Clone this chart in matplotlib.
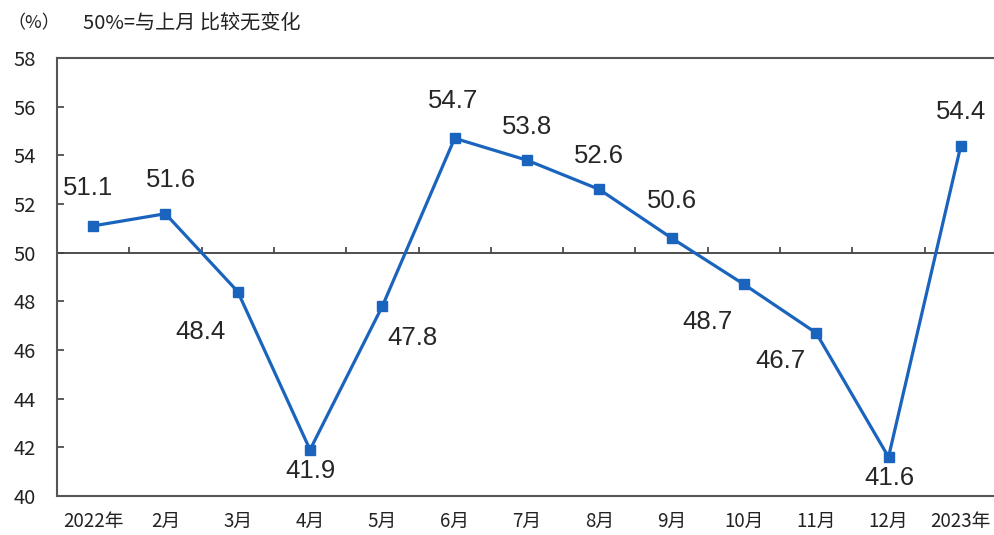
import matplotlib
matplotlib.use("Agg")
import matplotlib.pyplot as plt

plt.rcParams['font.family'] = ['Noto Sans CJK SC', 'DejaVu Sans']

months = ["2022年", "2月", "3月", "4月", "5月", "6月", "7月",
          "8月", "9月", "10月", "11月", "12月", "2023年"]
values = [51.1, 51.6, 48.4, 41.9, 47.8, 54.7, 53.8, 52.6, 50.6, 48.7, 46.7, 41.6, 54.4]
yticks = [40, 42, 44, 46, 48, 50, 52, 54, 56, 58]

# label offsets from each point, in points (x, y)
label_offsets = [(-4, 27), (4, 24), (-27, -29), (0, -15), (22, -23), (-1, 27), (0, 24),
                 (0, 24), (0, 27), (-26, -27), (-26, -20), (1, -15), (0, 24)]

fig = plt.figure(figsize=(9.94, 5.35), dpi=100)
ax = fig.add_axes([0.0573, 0.0729, 0.9457, 0.8187])

line_color = "#1a64be"
x = list(range(len(months)))
ax.plot(x, values, color=line_color, lw=2.3, marker="s", markersize=6.5,
        markerfacecolor=line_color, markeredgecolor=line_color, zorder=3)

for xi, v, (dx, dy) in zip(x, values, label_offsets):
    ax.annotate(f"{v:.1f}", (xi, v), xytext=(dx, dy), textcoords="offset points",
                ha="center", va="center", fontsize=18.5, color="#262626",
                family=["Liberation Sans", "DejaVu Sans"])

# reference line at 50 with small tick marks between months
ax.axhline(50, color="#404040", lw=1.3, zorder=2)
ax.vlines([i + 0.5 for i in range(len(months) - 1)], 50, 50.22,
          color="#404040", lw=1.2, zorder=2)

ax.set_xlim(-0.5, len(months) - 0.5)
ax.set_ylim(40, 58)
ax.set_yticks(yticks)
ax.set_yticklabels([str(t) for t in yticks])
ax.set_xticks(x)
ax.set_xticklabels(months)

ax.tick_params(axis="y", direction="in", length=5, width=1.2, color="#404040",
               labelsize=14.5, labelcolor="#222222", pad=15)
ax.tick_params(axis="x", length=0, labelsize=13.5, labelcolor="#222222", pad=11)

for side in ("left", "bottom", "top"):
    ax.spines[side].set_color("#555555")
    ax.spines[side].set_linewidth(1.5)
ax.spines["right"].set_visible(False)

fig.text(0.007, 0.957, "（%）", fontsize=13, color="#222222", va="center")
fig.text(0.083, 0.957, "50%=与上月 比较无变化", fontsize=14.5, color="#222222", va="center")

fig.savefig("out.png", dpi=100)
